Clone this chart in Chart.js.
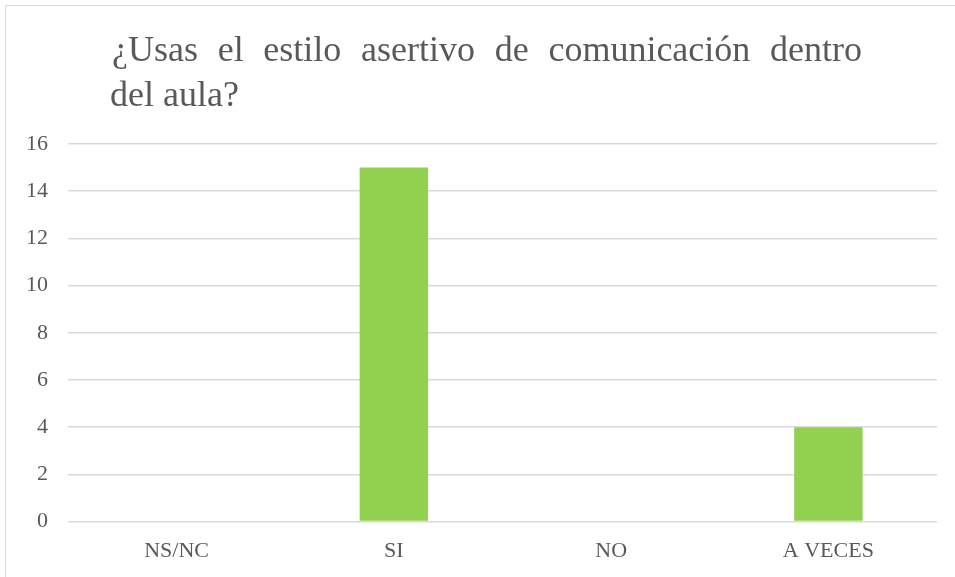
<!DOCTYPE html>
<html>
<head>
<meta charset="utf-8">
<script src="https://cdn.jsdelivr.net/npm/chart.js@4"></script>
<style>
  html, body { margin: 0; padding: 0; background: #fff; }
  #box { width: 955px; height: 577px; position: relative; }
</style>
</head>
<body>
<div id="box"><canvas id="c" width="955" height="577"></canvas></div>
<script>
// Survey answers and counts
const categories = ['NS/NC', 'SI', 'NO', 'A VECES'];
const counts = [0, 15, 0, 4];
const yTicks = [0, 2, 4, 6, 8, 10, 12, 14, 16];
const titleLines = ['¿Usas el estilo asertivo de comunicación dentro', 'del aula?'];

const TEXT = '#595959';
const GRID = '#d9d9d9';
const SERIF = '"Liberation Serif", "Times New Roman", serif';

// Title drawn with justified first line, plus the frame edge on the left/top
const frameAndTitle = {
  id: 'frameAndTitle',
  beforeDraw(chart) {
    const ctx = chart.ctx;
    ctx.save();
    ctx.strokeStyle = GRID;
    ctx.lineWidth = 1;
    ctx.beginPath();
    ctx.moveTo(5.5, 577);
    ctx.lineTo(5.5, 5.5);
    ctx.lineTo(955, 5.5);
    ctx.stroke();
    ctx.restore();
  },
  afterDraw(chart) {
    const ctx = chart.ctx;
    ctx.save();
    ctx.fillStyle = TEXT;
    ctx.font = '36px ' + SERIF;
    ctx.textBaseline = 'alphabetic';
    const left = 112, right = 862;
    const words = titleLines[0].split(' ');
    const widths = words.map(w => ctx.measureText(w).width);
    const total = widths.reduce((a, b) => a + b, 0);
    const gap = (right - left - total) / (words.length - 1);
    let x = left;
    words.forEach((w, i) => { ctx.fillText(w, x, 61); x += widths[i] + gap; });
    ctx.fillText(titleLines[1], 110, 106);
    ctx.restore();
  }
};

new Chart(document.getElementById('c'), {
  type: 'bar',
  data: {
    labels: categories,
    datasets: [{
      data: counts,
      backgroundColor: '#92D050',
      barPercentage: 0.63,
      categoryPercentage: 0.5
    }]
  },
  options: {
    responsive: false,
    animation: false,
    layout: { padding: { top: 144, left: 6, right: 18, bottom: 5 } },
    plugins: { legend: { display: false }, tooltip: { enabled: false } },
    scales: {
      x: {
        grid: { display: false },
        border: { display: false },
        ticks: { color: TEXT, font: { family: SERIF, size: 22 }, padding: 8 }
      },
      y: {
        min: 0,
        max: 16,
        afterBuildTicks(scale) { scale.ticks = yTicks.map(v => ({ value: v })); },
        grid: { color: GRID, lineWidth: 1.5, drawTicks: false },
        border: { display: false },
        ticks: { color: TEXT, font: { family: SERIF, size: 22 }, padding: 20 }
      }
    }
  },
  plugins: [frameAndTitle]
});
</script>
</body>
</html>
